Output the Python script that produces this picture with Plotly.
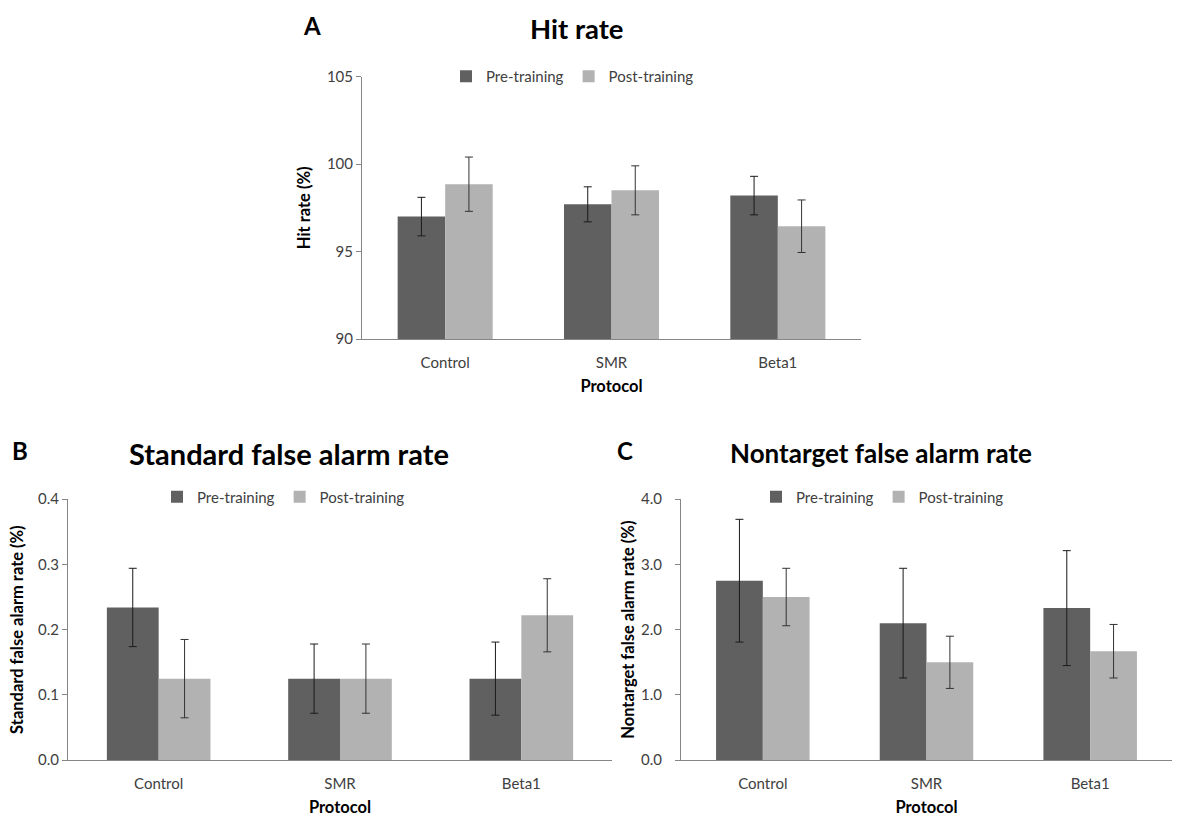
import plotly.graph_objects as go

# Protocol groups on the category axis
protocols = ["Control", "SMR", "Beta1"]

# Hit rate (%)
hit_pre = [97.0, 97.7, 98.2]
hit_pre_err = [1.1, 1.0, 1.1]
hit_post = [98.85, 98.5, 96.45]
hit_post_err = [1.55, 1.4, 1.5]

# Standard false alarm rate (%)
std_pre = [0.234, 0.125, 0.125]
std_pre_err = [0.060, 0.053, 0.056]
std_post = [0.125, 0.125, 0.222]
std_post_err = [0.060, 0.053, 0.056]

# Nontarget false alarm rate (%)
nt_pre = [2.75, 2.10, 2.33]
nt_pre_err = [0.94, 0.84, 0.88]
nt_post = [2.50, 1.50, 1.67]
nt_post_err = [0.44, 0.40, 0.41]

W, H = 1179, 824
FONT = "Lato"
DARK = "#606060"
LIGHT = "#b2b2b2"
AXIS = "#868686"
TICK_TXT = "#404040"


def px_x(a, b):
    return [a / W, b / W]


def px_y(top, bottom):
    return [1 - bottom / H, 1 - top / H]


fig = go.Figure()

panels = [
    # (axis suffix, legend name, pre, pre err, post, post err)
    ("", "legend", hit_pre, hit_pre_err, hit_post, hit_post_err),
    ("2", "legend2", std_pre, std_pre_err, std_post, std_post_err),
    ("3", "legend3", nt_pre, nt_pre_err, nt_post, nt_post_err),
]

for sfx, leg, pre, pre_e, post, post_e in panels:
    fig.add_trace(go.Bar(
        x=protocols, y=pre, name="Pre-training",
        marker=dict(color=DARK, line=dict(width=0)),
        error_y=dict(type="data", array=pre_e, color="#1a1a1a", thickness=1, width=4),
        xaxis="x" + sfx, yaxis="y" + sfx, legend=leg,
    ))
    fig.add_trace(go.Bar(
        x=protocols, y=post, name="Post-training",
        marker=dict(color=LIGHT, line=dict(width=0)),
        error_y=dict(type="data", array=post_e, color="#333333", thickness=1, width=4),
        xaxis="x" + sfx, yaxis="y" + sfx, legend=leg,
    ))

tick_font = dict(family=FONT, size=15, color=TICK_TXT)
title_font = dict(family=FONT, size=16.5, color="#000000")


def xaxis_cfg(domain, anchor):
    return dict(
        domain=domain, anchor=anchor,
        showline=True, linecolor=AXIS, linewidth=1,
        ticks="", showgrid=False, zeroline=False,
        tickfont=tick_font, ticklabelstandoff=10,
        title=dict(text="<b>Protocol</b>", font=title_font, standoff=10),
    )


def yaxis_cfg(domain, anchor, rng, tickvals, fmt, title, standoff, label_gap=0):
    return dict(
        domain=domain, anchor=anchor, range=rng,
        tickvals=tickvals, tickformat=fmt,
        showline=True, linecolor=AXIS, linewidth=1,
        ticks="outside", ticklen=5, tickcolor=AXIS,
        showgrid=False, zeroline=False,
        tickfont=tick_font, ticklabelstandoff=label_gap,
        title=dict(text="<b>" + title + "</b>", font=title_font, standoff=standoff),
    )


def legend_cfg(x, y):
    return dict(
        orientation="h", x=x, y=y, xanchor="left", yanchor="middle",
        font=dict(family=FONT, size=15, color=TICK_TXT),
        bgcolor="rgba(0,0,0,0)", itemwidth=30, tracegroupgap=0,
        traceorder="normal",
    )


fig.update_layout(
    width=W, height=H,
    margin=dict(l=0, r=0, t=0, b=0),
    paper_bgcolor="white", plot_bgcolor="white",
    barmode="group", bargap=0.4286, bargroupgap=0,
    font=dict(family=FONT),
    xaxis=xaxis_cfg(px_x(362, 861), "y"),
    yaxis=yaxis_cfg(px_y(68, 336.5), "x", [90, 105], [90, 95, 100, 105], "d",
                    "Hit rate (%)", 12),
    xaxis2=xaxis_cfg(px_x(68, 612), "y2"),
    yaxis2=yaxis_cfg(px_y(500, 767), "x2", [0, 0.4], [0, 0.1, 0.2, 0.3, 0.4], ".1f",
                     "Standard false alarm rate (%)", 10),
    xaxis3=xaxis_cfg(px_x(681, 1172), "y3"),
    yaxis3=yaxis_cfg(px_y(500, 767), "x3", [0, 4], [0, 1, 2, 3, 4], ".1f",
                     "Nontarget false alarm rate (%)", 2, label_gap=10),
    legend=legend_cfg(446 / W, 1 - 68 / H),
    legend2=legend_cfg(157 / W, 1 - 498 / H),
    legend3=legend_cfg(756 / W, 1 - 498 / H),
    showlegend=True,
)

# Panel letters and panel titles
headings = [
    ("A", 312, 16, 24),
    ("B", 20, 450, 24),
    ("C", 625, 450, 24),
    ("Hit rate", 577, 19, 27.5),
    ("Standard false alarm rate", 289, 453, 29),
    ("Nontarget false alarm rate", 881, 453, 26),
]
for txt, cx, cy, size in headings:
    fig.add_annotation(
        text="<b>" + txt + "</b>", x=cx / W, y=1 - cy / H,
        xref="paper", yref="paper", xanchor="center", yanchor="middle",
        showarrow=False, font=dict(family=FONT, size=size, color="#000000"),
    )

fig.write_html("out.html")
